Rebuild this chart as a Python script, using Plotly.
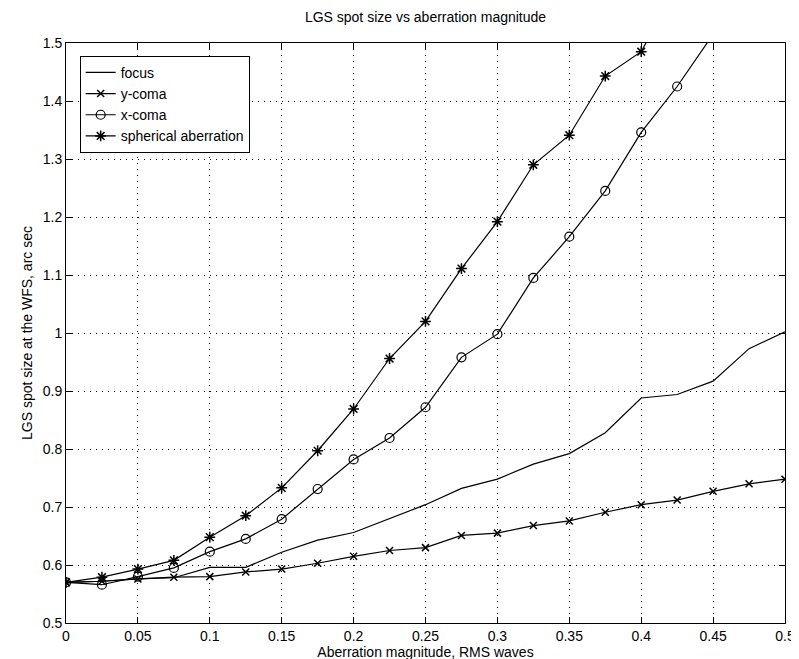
import plotly.graph_objects as go

x_vals = [0, 0.025, 0.05, 0.075, 0.1, 0.125, 0.15, 0.175, 0.2, 0.225, 0.25,
          0.275, 0.3, 0.325, 0.35, 0.375, 0.4, 0.425, 0.45, 0.475, 0.5]

focus = [0.57, 0.572, 0.576, 0.578, 0.596, 0.596, 0.622, 0.643, 0.656, 0.680, 0.704,
         0.732, 0.748, 0.774, 0.792, 0.828, 0.888, 0.894, 0.917, 0.973, 1.002]
y_coma = [0.57, 0.572, 0.576, 0.579, 0.580, 0.588, 0.593, 0.603, 0.615, 0.625, 0.630,
          0.651, 0.655, 0.668, 0.676, 0.691, 0.704, 0.712, 0.727, 0.740, 0.748]
x_coma = [0.57, 0.566, 0.580, 0.595, 0.623, 0.645, 0.679, 0.731, 0.782, 0.819, 0.872,
          0.958, 0.998, 1.095, 1.166, 1.245, 1.346, 1.425, 1.515]
spherical = [0.57, 0.579, 0.593, 0.608, 0.648, 0.685, 0.733, 0.797, 0.869, 0.956, 1.020,
             1.111, 1.192, 1.290, 1.341, 1.443, 1.485, 1.60]

x_ticks = [0, 0.05, 0.1, 0.15, 0.2, 0.25, 0.3, 0.35, 0.4, 0.45, 0.5]
x_ticklabels = ["0", "0.05", "0.1", "0.15", "0.2", "0.25", "0.3", "0.35", "0.4", "0.45", "0.5"]
y_ticks = [0.5, 0.6, 0.7, 0.8, 0.9, 1.0, 1.1, 1.2, 1.3, 1.4, 1.5]
y_ticklabels = ["0.5", "0.6", "0.7", "0.8", "0.9", "1", "1.1", "1.2", "1.3", "1.4", "1.5"]

FONT = "Liberation Sans, Arial, sans-serif"
line = dict(color="black", width=1.2)

fig = go.Figure()
fig.add_trace(go.Scatter(x=x_vals, y=focus, mode="lines", name="focus", line=line))
fig.add_trace(go.Scatter(x=x_vals[:len(y_coma)], y=y_coma, mode="lines+markers", name="y-coma",
                         line=line,
                         marker=dict(symbol="x-thin-open", size=7, color="black",
                                     line=dict(color="black", width=1.5))))
fig.add_trace(go.Scatter(x=x_vals[:len(x_coma)], y=x_coma, mode="lines+markers", name="x-coma",
                         line=line,
                         marker=dict(symbol="circle-open", size=9, color="black",
                                     line=dict(color="black", width=1.2))))
fig.add_trace(go.Scatter(x=x_vals[:len(spherical)], y=spherical, mode="lines+markers",
                         name="spherical aberration", line=line,
                         marker=dict(symbol="asterisk-open", size=9, color="black",
                                     line=dict(color="black", width=1.5))))

axis_common = dict(
    showline=True, linecolor="black", linewidth=1, mirror="ticks",
    ticks="inside", ticklen=6, tickcolor="black", tickwidth=1,
    showgrid=True, gridcolor="black", gridwidth=1, griddash="1px,5px",
    zeroline=False,
    tickfont=dict(family=FONT, size=14, color="black"),
)

fig.update_xaxes(range=[0, 0.5], tickvals=x_ticks, ticktext=x_ticklabels,
                 title=dict(text="Aberration magnitude, RMS waves",
                            font=dict(family=FONT, size=14, color="black"), standoff=0),
                 **axis_common)
fig.update_yaxes(range=[0.5, 1.5], tickvals=y_ticks, ticktext=y_ticklabels,
                 title=dict(text="LGS spot size at the WFS, arc sec",
                            font=dict(family=FONT, size=14, color="black"), standoff=6),
                 **axis_common)

fig.update_layout(
    width=799, height=659,
    margin=dict(l=58, r=12, t=35, b=44),
    paper_bgcolor="white", plot_bgcolor="white",
    title=dict(text="LGS spot size vs aberration magnitude", x=0.5, xanchor="center",
               xref="paper", y=0.993, yanchor="top",
               font=dict(family=FONT, size=14, color="black")),
    legend=dict(x=0.019, y=0.978, xanchor="left", yanchor="top",
                bgcolor="white", bordercolor="black", borderwidth=1,
                font=dict(family=FONT, size=14, color="black"),
                tracegroupgap=0, itemwidth=30),
    showlegend=True,
)

fig.write_html("out.html")
